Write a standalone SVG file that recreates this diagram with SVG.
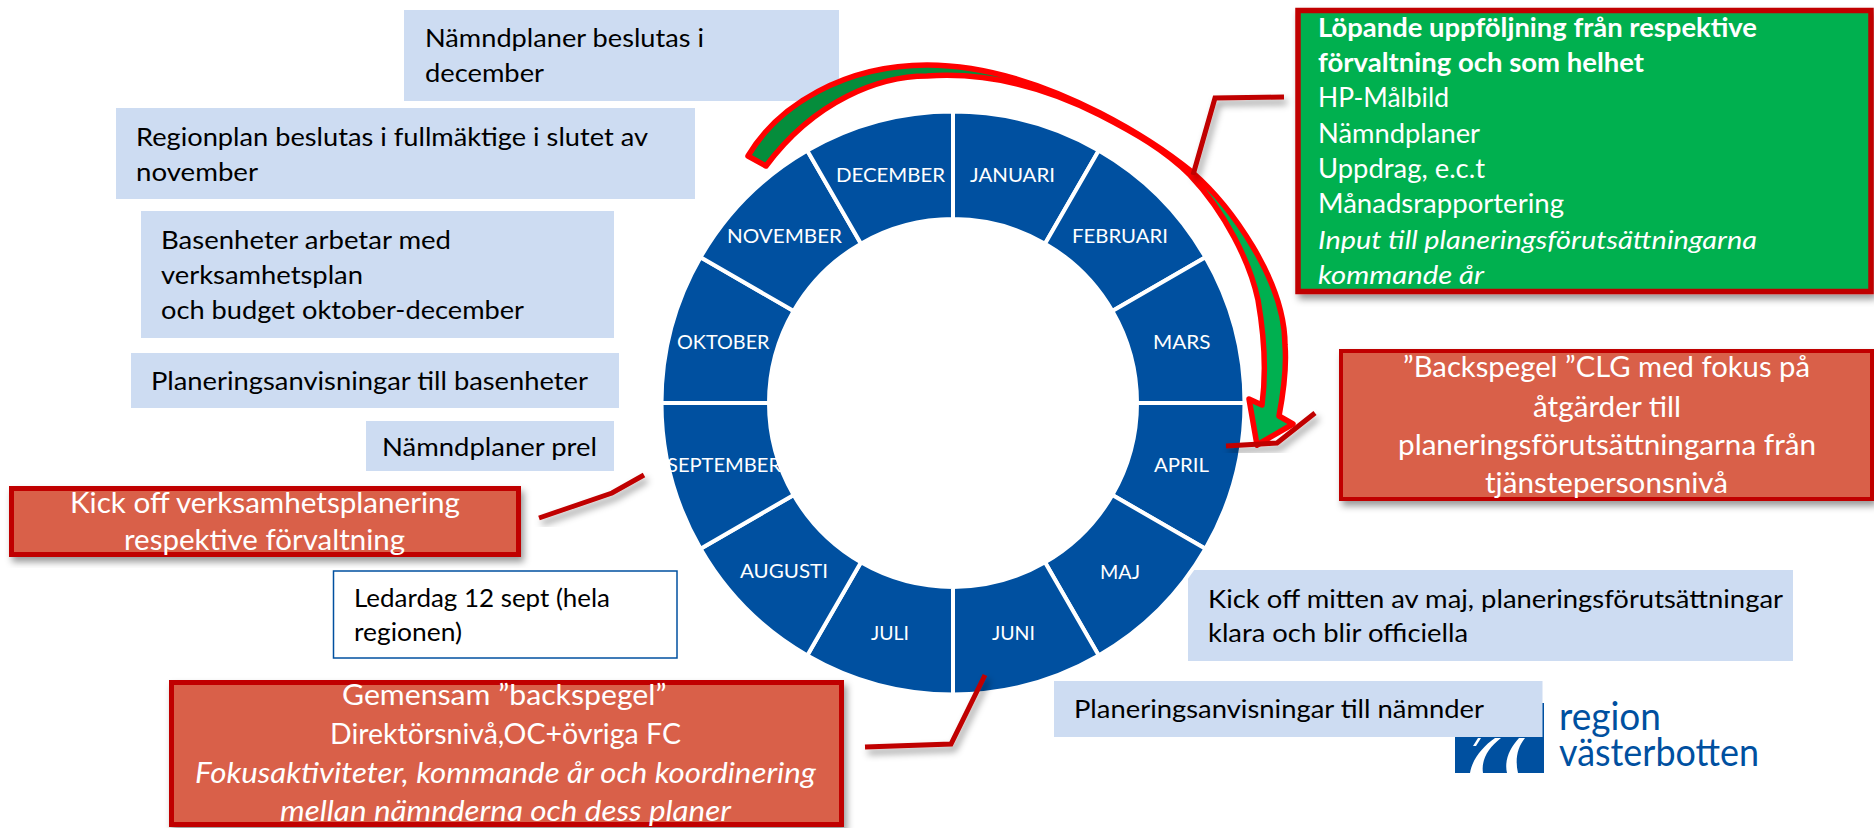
<svg xmlns="http://www.w3.org/2000/svg" width="1874" height="828" viewBox="0 0 1874 828">
<style>
text{font-family:Lato,"Liberation Sans",Carlito,sans-serif;white-space:pre}
.b{fill:#cddcf2}
.d{font-size:25px;fill:#000}
.w{font-size:29px;fill:#fff}
.g{font-size:26px;fill:#fff}
.m{font-size:20px;fill:#fff}
.seg{fill:#0050a0;stroke:#fff;stroke-width:4}
.r{fill:#d9604a;stroke:#c00000;filter:url(#sh)}
.c{fill:none;stroke:#c00000;stroke-width:5;stroke-linejoin:miter;filter:url(#sh)}
.i{font-style:italic}
.bd{font-weight:700}
.logo{font-size:38px;fill:#0050a0}
</style>
<defs>
<filter id="sh" x="-20%" y="-20%" width="140%" height="140%"><feDropShadow dx="3" dy="5" stdDeviation="3.500" flood-color="#000" flood-opacity="0.4"/></filter>
<linearGradient id="ag" gradientUnits="userSpaceOnUse" x1="1000" y1="0" x2="1200" y2="0"><stop offset="0.5" stop-color="#058d3c"/><stop offset="0.5" stop-color="#00b050"/></linearGradient>
</defs>
<rect width="1874" height="828" fill="#fff"/>

<g id="box-namndplaner-dec"><rect class="b" x="404" y="10" width="435" height="91"/><text class="d" x="425" y="47" textLength="279" lengthAdjust="spacingAndGlyphs">Nämndplaner beslutas i</text><text class="d" x="425" y="82" textLength="119" lengthAdjust="spacingAndGlyphs">december</text></g>
<g id="box-regionplan"><rect class="b" x="116" y="108" width="579" height="91"/><text class="d" x="136" y="146" textLength="512" lengthAdjust="spacingAndGlyphs">Regionplan beslutas i fullmäktige i slutet av</text><text class="d" x="136" y="181" textLength="122" lengthAdjust="spacingAndGlyphs">november</text></g>
<g id="box-basenheter"><rect class="b" x="141" y="211" width="473" height="127"/><text class="d" x="161" y="249" textLength="290" lengthAdjust="spacingAndGlyphs">Basenheter arbetar med</text><text class="d" x="161" y="284" textLength="202" lengthAdjust="spacingAndGlyphs">verksamhetsplan</text><text class="d" x="161" y="319" textLength="363" lengthAdjust="spacingAndGlyphs">och budget oktober-december</text></g>
<g id="box-plan-basenheter"><rect class="b" x="131" y="353" width="488" height="55"/><text class="d" x="151" y="390" textLength="437" lengthAdjust="spacingAndGlyphs">Planeringsanvisningar till basenheter</text></g>
<g id="box-namndplaner-prel"><rect class="b" x="366" y="421" width="248" height="50"/><text class="d" x="382" y="456" textLength="215" lengthAdjust="spacingAndGlyphs">Nämndplaner prel</text></g>
<g id="box-ledardag"><rect x="333.500" y="571" width="343.500" height="87" fill="#fff" stroke="#0050a0" stroke-width="1.500"/><text class="d" x="354" y="607" textLength="256" lengthAdjust="spacingAndGlyphs">Ledardag 12 sept (hela</text><text class="d" x="354" y="641" textLength="108" lengthAdjust="spacingAndGlyphs">regionen)</text></g>
<g id="box-kickoff-maj"><rect class="b" x="1188" y="570" width="605" height="91"/><text class="d" x="1208" y="608" textLength="575" lengthAdjust="spacingAndGlyphs">Kick off mitten av maj, planeringsförutsättningar</text><text class="d" x="1208" y="642" textLength="260" lengthAdjust="spacingAndGlyphs">klara och blir officiella</text></g>

<g id="logo"><rect x="1455" y="703" width="89" height="70" fill="#0050a0"/><path d="M1473,746L1478,738H1481L1476,746Z M1495,738H1501C1488,748 1481,760 1483,773H1470C1472,760 1482,747 1495,738Z M1519,738H1525C1517,748 1515,760 1518,773H1507C1504,760 1510,748 1519,738Z" fill="#fff"/><text class="logo" x="1559" y="730" textLength="102" lengthAdjust="spacingAndGlyphs">region</text><text class="logo" x="1559" y="766" textLength="200" lengthAdjust="spacingAndGlyphs">västerbotten</text></g>
<g id="box-plan-namnder"><rect class="b" x="1054" y="681" width="488.500" height="56"/><text class="d" x="1074" y="718" textLength="410" lengthAdjust="spacingAndGlyphs">Planeringsanvisningar till nämnder</text></g>

<g id="ring">
<g id="januari"><path class="seg" d="M953,111.500A291.500,291.500 0 0 1 1098.750,150.550L1045,243.650A184,184 0 0 0 953,219Z"/><text class="m" x="970" y="182" textLength="85" lengthAdjust="spacingAndGlyphs">JANUARI</text></g>
<g id="februari"><path class="seg" d="M1098.750,150.550A291.500,291.500 0 0 1 1205.450,257.250L1112.350,311A184,184 0 0 0 1045,243.650Z"/><text class="m" x="1072" y="243" textLength="96" lengthAdjust="spacingAndGlyphs">FEBRUARI</text></g>
<g id="mars"><path class="seg" d="M1205.450,257.250A291.500,291.500 0 0 1 1244.500,403L1137,403A184,184 0 0 0 1112.350,311Z"/><text class="m" x="1153" y="349" textLength="57.500" lengthAdjust="spacingAndGlyphs">MARS</text></g>
<g id="april"><path class="seg" d="M1244.500,403A291.500,291.500 0 0 1 1205.450,548.750L1112.350,495A184,184 0 0 0 1137,403Z"/><text class="m" x="1154" y="472" textLength="55" lengthAdjust="spacingAndGlyphs">APRIL</text></g>
<g id="maj"><path class="seg" d="M1205.450,548.750A291.500,291.500 0 0 1 1098.750,655.450L1045,562.350A184,184 0 0 0 1112.350,495Z"/><text class="m" x="1100" y="579" textLength="40" lengthAdjust="spacingAndGlyphs">MAJ</text></g>
<g id="juni"><path class="seg" d="M1098.750,655.450A291.500,291.500 0 0 1 953,694.500L953,587A184,184 0 0 0 1045,562.350Z"/><text class="m" x="992" y="640" textLength="43" lengthAdjust="spacingAndGlyphs">JUNI</text></g>
<g id="juli"><path class="seg" d="M953,694.500A291.500,291.500 0 0 1 807.250,655.450L861,562.350A184,184 0 0 0 953,587Z"/><text class="m" x="871" y="640" textLength="38" lengthAdjust="spacingAndGlyphs">JULI</text></g>
<g id="augusti"><path class="seg" d="M807.250,655.450A291.500,291.500 0 0 1 700.550,548.750L793.650,495A184,184 0 0 0 861,562.350Z"/><text class="m" x="740" y="578" textLength="88" lengthAdjust="spacingAndGlyphs">AUGUSTI</text></g>
<g id="september"><path class="seg" d="M700.550,548.750A291.500,291.500 0 0 1 661.500,403L769,403A184,184 0 0 0 793.650,495Z"/><text class="m" x="667" y="472" textLength="114" lengthAdjust="spacingAndGlyphs">SEPTEMBER</text></g>
<g id="oktober"><path class="seg" d="M661.500,403A291.500,291.500 0 0 1 700.550,257.250L793.650,311A184,184 0 0 0 769,403Z"/><text class="m" x="677" y="349" textLength="92.500" lengthAdjust="spacingAndGlyphs">OKTOBER</text></g>
<g id="november"><path class="seg" d="M700.550,257.250A291.500,291.500 0 0 1 807.250,150.550L861,243.650A184,184 0 0 0 793.650,311Z"/><text class="m" x="727" y="243" textLength="115" lengthAdjust="spacingAndGlyphs">NOVEMBER</text></g>
<g id="december"><path class="seg" d="M807.250,150.550A291.500,291.500 0 0 1 953,111.500L953,219A184,184 0 0 0 861,243.650Z"/><text class="m" x="836" y="182" textLength="109" lengthAdjust="spacingAndGlyphs">DECEMBER</text></g>
</g>

<g id="box-lopande"><rect class="r" style="fill:#00b050" x="1298" y="10.500" width="573" height="281" stroke-width="5.500"/>
<text class="g bd" x="1318" y="37" textLength="439" lengthAdjust="spacingAndGlyphs">Löpande uppföljning från respektive</text>
<text class="g bd" x="1318" y="72" textLength="326" lengthAdjust="spacingAndGlyphs">förvaltning och som helhet</text>
<text class="g" x="1318" y="107" textLength="131" lengthAdjust="spacingAndGlyphs">HP-Målbild</text>
<text class="g" x="1318" y="143" textLength="162" lengthAdjust="spacingAndGlyphs">Nämndplaner</text>
<text class="g" x="1318" y="178" textLength="167" lengthAdjust="spacingAndGlyphs">Uppdrag, e.c.t</text>
<text class="g" x="1318" y="213" textLength="246" lengthAdjust="spacingAndGlyphs">Månadsrapportering</text>
<text class="g i" x="1318" y="249" textLength="439" lengthAdjust="spacingAndGlyphs">Input till planeringsförutsättningarna</text>
<text class="g i" x="1318" y="284" textLength="166" lengthAdjust="spacingAndGlyphs">kommande år</text></g>

<g id="box-backspegel"><rect class="r" x="1341" y="351" width="531" height="148" stroke-width="4"/>
<text class="w" x="1403" y="377" textLength="407" lengthAdjust="spacingAndGlyphs">”Backspegel ”CLG med fokus på</text>
<text class="w" x="1533" y="417" textLength="148" lengthAdjust="spacingAndGlyphs">åtgärder till</text>
<text class="w" x="1398" y="455" textLength="418" lengthAdjust="spacingAndGlyphs">planeringsförutsättningarna från</text>
<text class="w" x="1485" y="493" textLength="243" lengthAdjust="spacingAndGlyphs">tjänstepersonsnivå</text></g>

<g id="box-kickoff-verksamhet"><rect class="r" x="11.500" y="488.500" width="507" height="66" stroke-width="5"/>
<text class="w" x="70" y="513" textLength="390" lengthAdjust="spacingAndGlyphs">Kick off verksamhetsplanering</text>
<text class="w" x="124" y="550" textLength="281" lengthAdjust="spacingAndGlyphs">respektive förvaltning</text></g>

<g id="box-gemensam"><rect class="r" x="171.500" y="682.500" width="670" height="142" stroke-width="5"/>
<text class="w" x="342" y="705" textLength="324.500" lengthAdjust="spacingAndGlyphs">Gemensam ”backspegel”</text>
<text class="w" x="330" y="744" textLength="351" lengthAdjust="spacingAndGlyphs">Direktörsnivå,OC+övriga FC</text>
<text class="w i" x="195" y="783" textLength="621" lengthAdjust="spacingAndGlyphs">Fokusaktiviteter, kommande år och koordinering</text>
<text class="w i" x="280" y="821" textLength="451" lengthAdjust="spacingAndGlyphs">mellan nämnderna och dess planer</text></g>

<g id="arrow"><path d="M748,156C778,105 845,65 927,65C985,65 1045,85 1100,113C1135,131 1165,150 1192,172C1230,205 1285,280 1285,345C1287,370 1283,395 1279,416L1293,424L1257,445L1249,399L1262,405C1266,375 1265,340 1258,300C1250,262 1225,212 1190,175C1165,150 1135,133 1100,115C1045,87 985,72 927,76C880,76 815,100 766,166Z" fill="url(#ag)" stroke="#f00" stroke-width="5.500" stroke-linejoin="round"/></g>

<g id="connectors">
<path class="c" d="M1284,97L1215,98L1193,175"/>
<path class="c" d="M1315,413L1277,443L1226,446"/>
<path class="c" d="M539,518L612,493L644,475"/>
<path class="c" d="M985,675L951,744L865,747"/>
</g>
</svg>
